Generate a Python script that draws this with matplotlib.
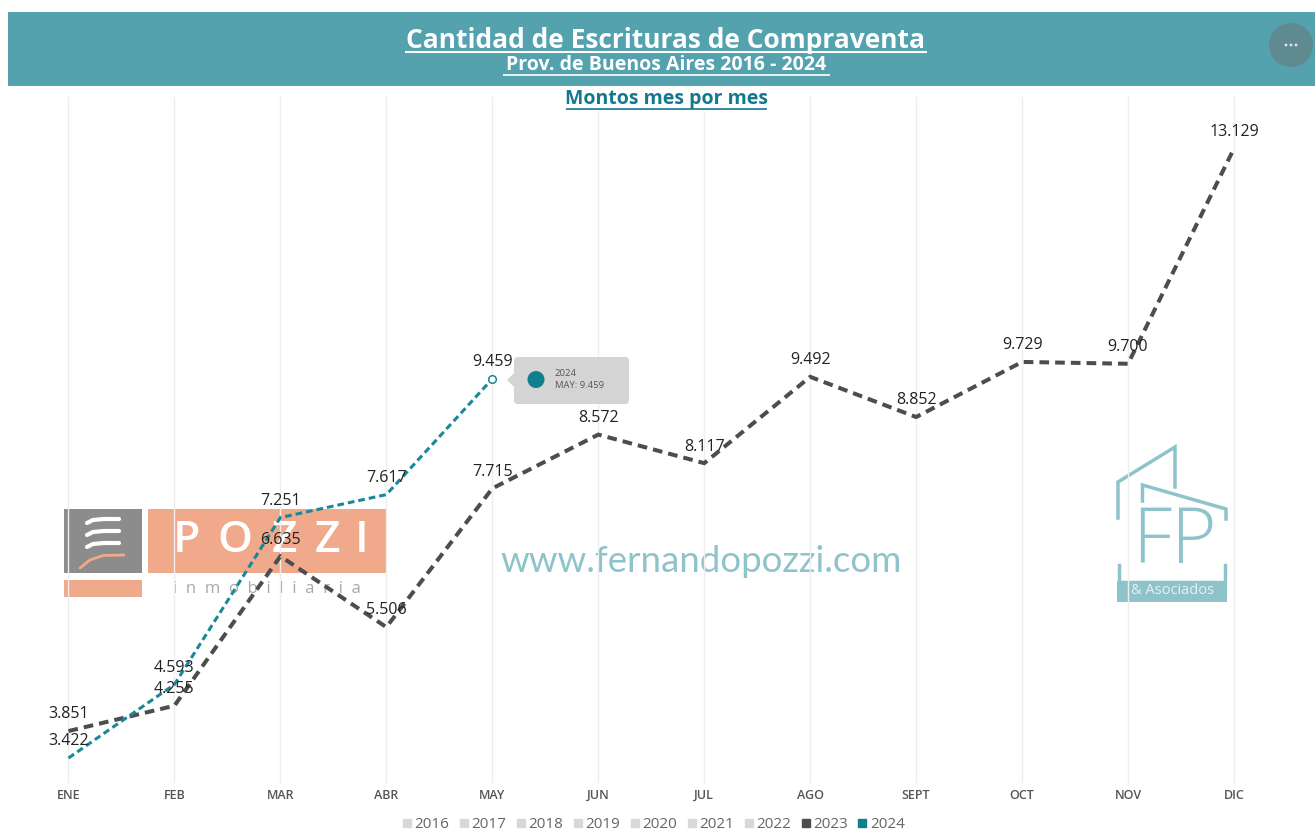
import matplotlib
matplotlib.use("Agg")
import matplotlib.pyplot as plt
from matplotlib.lines import Line2D
from matplotlib.patches import Rectangle, Circle, FancyBboxPatch, Polygon

W, H = 1315, 833

months = ["ENE", "FEB", "MAR", "ABR", "MAY", "JUN", "JUL", "AGO", "SEPT", "OCT", "NOV", "DIC"]
values_2023 = [3851, 4255, 6635, 5506, 7715, 8572, 8117, 9492, 8852, 9729, 9700, 13129]
values_2024 = [3422, 4593, 7251, 7617, 9459]
years = ["2016", "2017", "2018", "2019", "2020", "2021", "2022", "2023", "2024"]

DARK = "#4d4d4d"
TEAL = "#17899a"
DOT = "#0f7f8f"
BAND = "#54a2ae"
PEACH = "#f0a98a"
WATER = "#8fc3cc"
FONT = ["Open Sans", "DejaVu Sans"]

plt.rcParams["font.family"] = FONT


def fmt(v):
    return f"{v:,}".replace(",", ".")


def underline(ax, x0, x1, y, color, lw=1.4):
    ax.plot([x0, x1], [y, y], color=color, lw=lw, solid_capstyle="butt")


fig = plt.figure(figsize=(W / 100, H / 100), dpi=100, facecolor="white")

# background layer in pixel coords: header, logos, watermark
bg = fig.add_axes([0, 0, 1, 1], zorder=0)
bg.set_xlim(0, W)
bg.set_ylim(H, 0)
bg.axis("off")

bg.add_patch(Rectangle((8, 12), W - 8, 74, fc=BAND, ec="none"))
bg.add_patch(Circle((1291, 45), 22, fc="#5f8a90", ec="none"))
for dx in (-5, 0, 5):
    bg.add_patch(Circle((1291 + dx, 45), 1.4, fc="#dfe8ea", ec="none"))

bg.text(666, 40, "Cantidad de Escrituras de Compraventa", color="white", fontsize=19,
        fontweight="bold", ha="center", va="center")
underline(bg, 405, 927, 51.5, "white", 1.5)
bg.text(666.5, 64.5, "Prov. de Buenos Aires 2016 - 2024", color="white", fontsize=14,
        fontweight="bold", ha="center", va="center")
underline(bg, 503, 830, 75, "white", 1.2)

# Pozzi logo
bg.add_patch(Rectangle((64, 509), 78, 64, fc="#8c8c8c", ec="none"))
bg.add_patch(Rectangle((148, 509), 238, 64, fc=PEACH, ec="none"))
bg.add_patch(Rectangle((64, 580), 78, 17, fc=PEACH, ec="none"))
for y0 in (519, 531, 543):
    bg.plot([87, 93, 104, 119], [y0 + 4, y0 + 1, y0, y0], color="white", lw=3, solid_capstyle="round")
bg.plot([80, 90, 103, 124], [568, 560, 555.5, 555], color=PEACH, lw=2, solid_capstyle="round")
for letter, lx in zip("POZZI", (186, 235, 284, 327, 362)):
    bg.text(lx, 541, letter, color="white", fontsize=32, fontweight="semibold", ha="center", va="center")
bg.text(267, 589, "i  n  m  o  b  i  l  i  a  r  i  a", color="#a9a9a9", fontsize=12,
        ha="center", va="center")

bg.text(701, 562, "www.fernandopozzi.com", color=WATER, fontsize=26.4, ha="center", va="center",
        fontfamily=["Lato", "DejaVu Sans"])

# FP logo
bg.plot([1118, 1118, 1175, 1175], [518, 482, 447, 487], color=WATER, lw=2.5, solid_joinstyle="miter")
bg.plot([1142.5, 1142.5, 1226, 1226], [501, 485, 509, 519], color=WATER, lw=2.5, solid_joinstyle="miter")
bg.plot([1119, 1119, 1225, 1225], [565, 582, 582, 565], color=WATER, lw=2.5)
bg.add_patch(Rectangle((1117, 581), 110, 21, fc=WATER, ec="none"))
bg.text(1174, 543, "FP", color=WATER, fontsize=56, fontweight="light", ha="center", va="center")
bg.text(1173, 591, "& Asociados", color="#e4f1f3", fontsize=10.5, ha="center", va="center")

# chart
ax = fig.add_axes([15.5 / W, 1 - 783 / H, (1287 - 15.5) / W, (783 - 97) / H], zorder=1)
ax.patch.set_alpha(0)
ax.set_xlim(-0.5, 11.5)
ax.set_ylim(3024, 13948)
for s in ax.spines.values():
    s.set_visible(False)
ax.set_yticks([])
ax.set_xticks(range(len(months)))
ax.set_xticklabels(months, fontsize=9, color="#555555", fontweight="semibold")
ax.tick_params(axis="x", length=0, pad=4)
ax.grid(axis="x", color="#eeeeee", lw=1.0)
ax.set_axisbelow(True)

ax.plot(range(12), values_2023, color=DARK, lw=2.9, ls=(0, (2.4, 1.5)), dash_capstyle="butt",
        dash_joinstyle="miter", zorder=3)
ax.plot(range(5), values_2024, color=TEAL, lw=2.2, ls=(0, (2.2, 1.3)), dash_capstyle="butt", zorder=4)
ax.plot([4], [values_2024[4]], "o", ms=5.5, mfc="white", mec=TEAL, mew=1.1, zorder=5)

for i, v in enumerate(values_2023):
    ax.annotate(fmt(v), (i, v), xytext=(0, 12), textcoords="offset points", ha="center", va="center",
                fontsize=11.5, color="#222222", fontweight="medium", zorder=6)
for i, v in enumerate(values_2024):
    ax.annotate(fmt(v), (i, v), xytext=(0, 12), textcoords="offset points", ha="center", va="center",
                fontsize=11.5, color="#222222", fontweight="medium", zorder=6)

handles = []
for y in years:
    c = DARK if y == "2023" else DOT if y == "2024" else "#d8d8d8"
    handles.append(Line2D([], [], ls="none", marker="s", ms=6, color=c))
fig.legend(handles, years, loc="center", bbox_to_anchor=(652 / W, 1 - 825 / H), ncol=9, frameon=False,
           fontsize=11, labelcolor="#666666", handletextpad=0.0, columnspacing=0.45, handlelength=1,
           borderpad=0, borderaxespad=0)

# top layer: subtitle and tooltip
top = fig.add_axes([0, 0, 1, 1], zorder=2)
top.set_xlim(0, W)
top.set_ylim(H, 0)
top.axis("off")
top.add_patch(Rectangle((560, 90), 213, 21, fc="white", ec="none"))
top.text(666.5, 99, "Montos mes por mes", color="#14788f", fontsize=14,
         fontweight="bold", ha="center", va="center")
underline(top, 566, 767, 108.5, "#14788f", 1.2)
top.add_patch(FancyBboxPatch((517, 360), 109, 41, boxstyle="round,pad=3,rounding_size=4",
                             fc="#d4d4d4", ec="none"))
top.add_patch(Polygon([(514, 373), (507, 380), (514, 387)], fc="#d4d4d4", ec="none"))
top.add_patch(Circle((536, 379.5), 8.5, fc=DOT, ec="none"))
top.text(555, 373.5, "2024", fontsize=6.8, color="#555555", va="center", ha="left")
top.text(555, 385.5, "MAY: " + fmt(values_2024[4]), fontsize=6.8, color="#555555", va="center", ha="left")

fig.savefig("out.png", dpi=100)
